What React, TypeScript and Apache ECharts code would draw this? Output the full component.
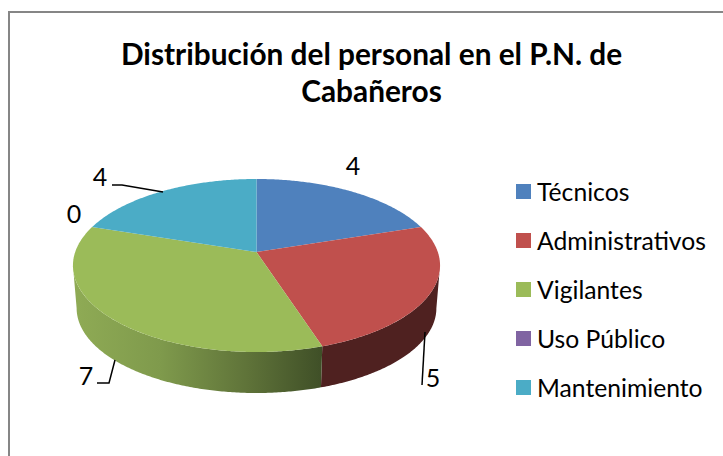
import React, { useEffect, useRef } from "react";
import * as echarts from "echarts";

const titleLines = ["Distribución del personal en el P.N. de", "Cabañeros"];
const categories = ["Técnicos", "Administrativos", "Vigilantes", "Uso Público", "Mantenimiento"];
const values = [4, 5, 7, 0, 4];
const colors = ["#4f81bd", "#c0504d", "#9bbb59", "#8064a2", "#4bacc6"];

const FONT = "Lato, Carlito, 'Open Sans', sans-serif";
const CX = 256.5, CY = 252, A = 181.3, B = 84.4, P = 0.156;
const DEPTH = 43, BASE_SCALE = 0.98;
const total = values.reduce((a, b) => a + b, 0);
const startOf = (i: number) => values.slice(0, i).reduce((a, b) => a + b, 0) / total * Math.PI * 2;
const FRONT_FROM = Math.acos(-P);
const FRONT_TO = Math.PI * 2 - FRONT_FROM;

function project(theta: number, scale = 1, dy = 0): number[] {
  const X = Math.sin(theta), Y = Math.cos(theta), w = 1 + P * Y;
  return [CX + scale * A * X / w, CY + dy - scale * B * Y / w];
}
function rim(t0: number, t1: number, scale = 1, dy = 0): number[][] {
  const n = Math.max(2, Math.ceil(Math.abs(t1 - t0) / 0.01));
  const pts: number[][] = [];
  for (let k = 0; k <= n; k++) pts.push(project(t0 + (t1 - t0) * k / n, scale, dy));
  return pts;
}

function wallFill(i: number): any {
  if (i === 2) {
    return new echarts.graphic.LinearGradient(0, 0, 1, 0, [
      { offset: 0, color: "#8fab55" },
      { offset: 0.35, color: "#7f9a4c" },
      { offset: 0.7, color: "#5f7339" },
      { offset: 1, color: "#3f4f27" },
    ]);
  }
  if (i === 1) return "#4f2120";
  return colors[i];
}

export default function App() {
  const ref = useRef<HTMLDivElement>(null);
  useEffect(() => {
    document.body.style.margin = "0";
    const chart = echarts.init(ref.current!, null, { renderer: "svg" });
    const wallSeries: any = {
      type: "custom",
      coordinateSystem: "none",
      silent: true,
      z: 1,
      data: values.map((v) => [v]),
      renderItem: (params: any, api: any) => {
        const i = params.dataIndex;
        const v = api.value(0);
        const a0 = startOf(i), a1 = a0 + v / total * Math.PI * 2;
        const t0 = Math.max(a0, FRONT_FROM), t1 = Math.min(a1, FRONT_TO);
        if (!v || t1 <= t0) return { type: "group", children: [] };
        const points = [...rim(t0, t1), ...rim(t1, t0, BASE_SCALE, DEPTH)];
        return { type: "polygon", shape: { points }, style: { fill: wallFill(i) } };
      },
    };
    const topSeries: any[] = categories.map((name, i) => ({
      type: "custom",
      name,
      coordinateSystem: "none",
      silent: true,
      z: 2,
      itemStyle: { color: colors[i] },
      data: [[values[i]]],
      renderItem: (_p: any, api: any) => {
        const v = api.value(0);
        if (!v) return { type: "group", children: [] };
        const t0 = startOf(i), t1 = t0 + v / total * Math.PI * 2;
        const points = [[CX, CY], ...rim(t0, t1)];
        return { type: "polygon", shape: { points }, style: { fill: colors[i] } };
      },
    }));
    const label = (i: number, x: number, y: number) => ({
      type: "text", x, y, z: 10,
      style: { text: String(values[i]), font: `25px ${FONT}`, fill: "#000", align: "center", verticalAlign: "middle" },
    });
    const leader = (points: number[][]) => ({
      type: "polyline", z: 10, shape: { points },
      style: { stroke: "#000", lineWidth: 1.5, fill: "none" },
    });
    chart.setOption({
      animation: false,
      backgroundColor: "#fff",
      title: {
        text: titleLines.join("\n"),
        left: 366.5, top: 30, textAlign: "center",
        textStyle: { fontFamily: FONT, fontSize: 29.8, fontWeight: "bold", color: "#000", lineHeight: 37 },
      },
      legend: {
        orient: "vertical", left: 511, top: 174,
        icon: "rect", itemWidth: 15, itemHeight: 15, itemGap: 24,
        selectedMode: false,
        data: categories,
        textStyle: { fontFamily: FONT, fontSize: 24.7, color: "#000", padding: [0, 0, 0, 1], lineHeight: 15 },
      },
      graphic: [
        { type: "polyline", z: 0, shape: { points: [[9, 470], [9, 12], [740, 12]] }, style: { stroke: "#868686", lineWidth: 2, fill: "none" } },
        label(0, 353, 165),
        label(1, 433, 377),
        label(2, 86, 375),
        label(3, 74, 213),
        label(4, 100, 176),
        leader([[112, 185], [122, 185], [163, 192]]),
        leader([[97, 383], [109, 383], [115, 360]]),
        leader([[422, 385], [425, 332]]),
      ],
      series: [wallSeries, ...topSeries],
    });
    return () => chart.dispose();
  }, []);
  return <div ref={ref} style={{ width: 723, height: 456 }} />;
}
